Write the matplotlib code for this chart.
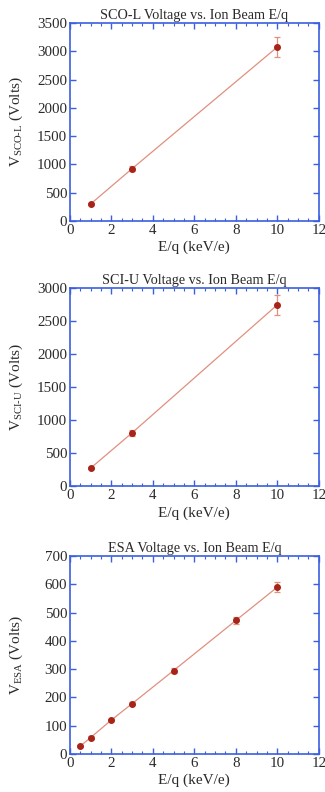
import numpy as np
import matplotlib
matplotlib.use("Agg")
import matplotlib.pyplot as plt
from matplotlib.ticker import MultipleLocator

plt.rcParams['font.family'] = ['Liberation Serif', 'DejaVu Serif']
plt.rcParams['mathtext.fontset'] = 'custom'
plt.rcParams['mathtext.rm'] = 'Liberation Serif'

# SCO-L analyzer voltage
sco_eq = [1, 3, 10]
sco_v = [300, 925, 3075]
sco_err = [15, 50, 170]

# SCI-U analyzer voltage
sci_eq = [1, 3, 10]
sci_v = [275, 810, 2750]
sci_err = [15, 50, 155]

# ESA voltage
esa_eq = [0.5, 1, 2, 3, 5, 8, 10]
esa_v = [28, 58, 120, 178, 295, 472, 590]
esa_err = [3, 4, 4, 5, 9, 14, 18]

panels = [
    ("SCO-L Voltage vs. Ion Beam E/q", r"V$_{\mathrm{SCO\text{-}L}}$ (Volts)",
     sco_eq, sco_v, sco_err, 3500, 500, 0.721),
    ("SCI-U Voltage vs. Ion Beam E/q", r"V$_{\mathrm{SCI\text{-}U}}$ (Volts)",
     sci_eq, sci_v, sci_err, 3000, 500, 0.386),
    ("ESA Voltage vs. Ion Beam E/q", r"V$_{\mathrm{ESA}}$ (Volts)",
     esa_eq, esa_v, esa_err, 700, 100, 0.048),
]

spine_blue = "#3a5fe0"
dot_red = "#a82418"
line_red = "#e0907f"
text_col = "#2a2a2a"

fig = plt.figure(figsize=(3.25, 7.92), dpi=100)

for title, ylabel, x, y, err, ymax, ystep, bottom in panels:
    ax = fig.add_axes([0.215, bottom, 0.766, 0.250])
    ax.plot(x, y, color=line_red, lw=0.9, zorder=1)
    ax.errorbar(x, y, yerr=err, fmt='o', ms=4, color=dot_red,
                ecolor=line_red, elinewidth=0.9, capsize=2.5, capthick=0.9, zorder=2)
    ax.set_xlim(0, 12)
    ax.set_ylim(0, ymax)
    ax.xaxis.set_major_locator(MultipleLocator(2))
    ax.xaxis.set_minor_locator(MultipleLocator(0.5))
    ax.yaxis.set_major_locator(MultipleLocator(ystep))
    ax.tick_params(which='both', direction='in', top=True, right=True,
                   color=spine_blue, labelsize=10.8, labelcolor=text_col, pad=2)
    ax.tick_params(which='major', length=4, width=1)
    ax.tick_params(which='minor', length=2.5, width=0.8)
    for s in ax.spines.values():
        s.set_color(spine_blue)
        s.set_linewidth(1.2)
    ax.set_title(title, fontsize=10.2, pad=3, color=text_col)
    ax.set_ylabel(ylabel, fontsize=11, color=text_col)
    ax.yaxis.set_label_coords(-0.18, 0.5)
    ax.set_xlabel("E/q (keV/e)", fontsize=11, labelpad=3, color=text_col)

fig.savefig("out.png", dpi=100)
